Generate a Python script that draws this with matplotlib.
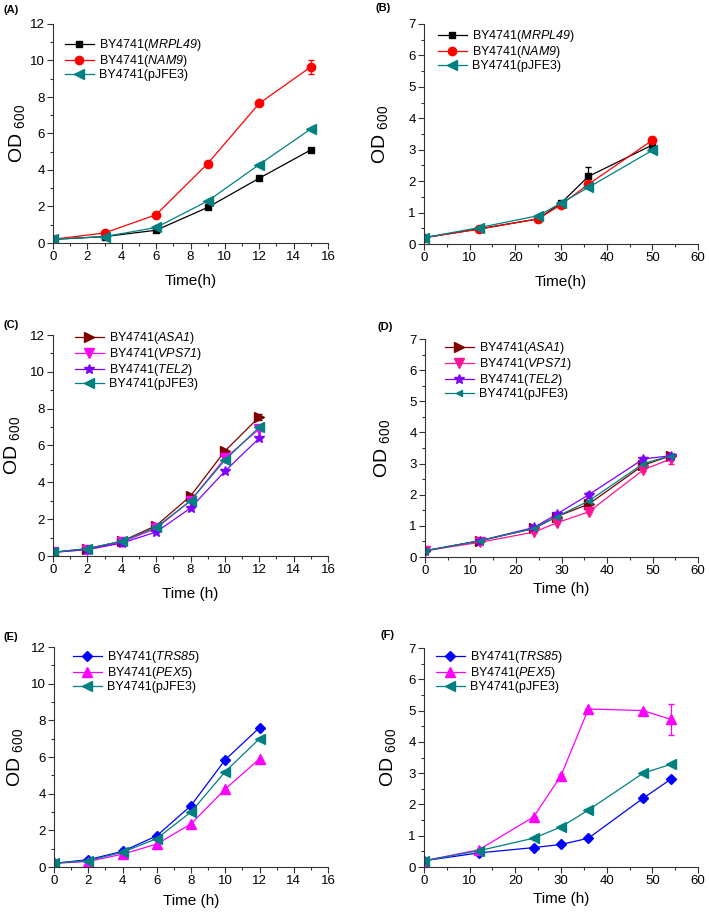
import matplotlib
matplotlib.use("Agg")
from matplotlib import pyplot as plt
from matplotlib.ticker import AutoMinorLocator

plt.rcParams['font.family'] = ['Liberation Sans', 'DejaVu Sans']
plt.rcParams['mathtext.fontset'] = 'custom'
plt.rcParams['mathtext.rm'] = 'Liberation Sans'
# sf 借用为斜体（it 模式下数字不会变斜）
plt.rcParams['mathtext.sf'] = 'Liberation Sans:italic'
plt.rcParams['mathtext.default'] = 'regular'

# (A) / (B) 数据
t_a = [0, 3, 6, 9, 12, 15]
a_mrpl49 = [0.2, 0.35, 0.7, 1.95, 3.55, 5.1]
a_nam9 = [0.2, 0.55, 1.55, 4.35, 7.65, 9.65]
a_nam9_err = [0, 0, 0, 0, 0, 0.4]
a_pjfe3 = [0.2, 0.35, 0.85, 2.3, 4.3, 6.25]

t_b = [0, 12, 25, 30, 36, 50]
b_mrpl49 = [0.2, 0.48, 0.8, 1.3, 2.15, 3.15]
b_mrpl49_err = [0, 0, 0, 0, 0.3, 0.05]
b_nam9 = [0.2, 0.47, 0.8, 1.25, 1.9, 3.3]
b_nam9_err = [0, 0, 0, 0, 0.05, 0.1]
b_pjfe3 = [0.2, 0.52, 0.9, 1.3, 1.8, 2.98]

# (C) / (D)
t_c = [0, 2, 4, 6, 8, 10, 12]
c_asa1 = [0.2, 0.4, 0.8, 1.65, 3.25, 5.7, 7.55]
c_asa1_err = [0, 0, 0, 0, 0.05, 0.05, 0.15]
c_vps71 = [0.2, 0.35, 0.75, 1.5, 3.0, 5.3, 6.9]
c_tel2 = [0.2, 0.35, 0.7, 1.3, 2.6, 4.6, 6.4]
c_pjfe3 = [0.2, 0.4, 0.8, 1.55, 3.0, 5.2, 7.0]

t_d = [0, 12, 24, 29, 36, 48, 54]
d_asa1 = [0.2, 0.52, 0.92, 1.3, 1.7, 2.95, 3.25]
d_vps71 = [0.2, 0.47, 0.8, 1.1, 1.45, 2.8, 3.15]
d_vps71_err = [0, 0, 0, 0, 0.05, 0.05, 0.15]
d_tel2 = [0.2, 0.52, 0.95, 1.38, 2.0, 3.15, 3.25]
d_tel2_err = [0, 0, 0, 0.05, 0.1, 0.05, 0.05]
d_pjfe3 = [0.2, 0.52, 0.92, 1.3, 1.8, 3.0, 3.25]

# (E) / (F)
t_e = [0, 2, 4, 6, 8, 10, 12]
e_trs85 = [0.2, 0.4, 0.85, 1.7, 3.35, 5.85, 7.6]
e_pex5 = [0.2, 0.3, 0.7, 1.25, 2.35, 4.25, 5.9]
e_pjfe3 = [0.2, 0.35, 0.8, 1.55, 3.0, 5.2, 7.0]

t_f = [0, 12, 24, 30, 36, 48, 54]
f_trs85 = [0.2, 0.45, 0.62, 0.72, 0.92, 2.2, 2.8]
f_trs85_err = [0, 0, 0, 0, 0.05, 0.1, 0.05]
f_pex5 = [0.2, 0.55, 1.6, 2.92, 5.05, 5.0, 4.72]
f_pex5_err = [0, 0, 0, 0.05, 0, 0, 0.5]
f_pjfe3 = [0.2, 0.52, 0.92, 1.28, 1.82, 3.0, 3.28]

black = '#000000'
red = '#FF0000'
teal = '#008080'
darkred = '#800000'
magenta = '#FF00FF'
pink = '#FF1493'
purple = '#8000FF'
blue = '#0000FF'

W, H = 709, 913
fig = plt.figure(figsize=(W / 100, H / 100), dpi=100)


def make_ax(l, t, r, b):
    return fig.add_axes([l / W, 1 - b / H, (r - l) / W, (b - t) / H])


def draw(ax, t, y, err, color, marker, label, ms=5.5):
    ax.plot(t, y, color=color, marker=marker, ms=ms, lw=0.9, label=label,
            mec=color, mfc=color)
    if err is not None:
        ax.errorbar(t, y, yerr=err, fmt='none', ecolor=color, elinewidth=0.9, capsize=2.5)


def style(ax, xmax, xstep, ymax, xlabel, letter, lx, ly, leg, ylab_x, xpad):
    ax.set_xlim(0, xmax)
    ax.set_ylim(0, ymax)
    ax.set_xticks(range(0, xmax + 1, xstep))
    ax.set_yticks(range(0, ymax + 1, 2 if ymax > 8 else 1))
    ax.xaxis.set_minor_locator(AutoMinorLocator(2))
    ax.yaxis.set_minor_locator(AutoMinorLocator(2))
    for s in ['top', 'right']:
        ax.spines[s].set_visible(False)
    for s in ['left', 'bottom']:
        ax.spines[s].set_color('#333333')
        ax.spines[s].set_linewidth(0.8)
    ax.tick_params(which='major', length=4, width=0.8, color='#333333', labelsize=9.5, pad=2)
    ax.tick_params(which='minor', length=2.5, width=0.8, color='#333333')
    ax.set_xlabel(xlabel, fontsize=11, labelpad=xpad)
    ax.set_ylabel('OD $_{600}$', fontsize=14)
    ax.yaxis.set_label_coords(ylab_x, 0.5)
    # 图例位置（像素偏移）
    bb = ax.get_position()
    wpx, hpx = bb.width * W, bb.height * H
    ax.legend(loc='upper left', frameon=False, fontsize=9, handlelength=2.3,
              handletextpad=0.4, labelspacing=0.0, borderaxespad=0, borderpad=0,
              bbox_to_anchor=(leg[0] / wpx, 1 - leg[1] / hpx))
    fig.text(lx / W, 1 - ly / H, letter, fontsize=8, fontweight='bold', ha='left', va='center')


# (A)
ax = make_ax(53, 24, 328, 243)
draw(ax, t_a, a_mrpl49, None, black, 's', 'BY4741($\\mathsf{MRPL49}$)', 5)
draw(ax, t_a, a_nam9, a_nam9_err, red, 'o', 'BY4741($\\mathsf{NAM9}$)', 6)
draw(ax, t_a, a_pjfe3, None, teal, '<', 'BY4741(pJFE3)', 6.5)
style(ax, 16, 2, 12, 'Time(h)', '(A)', 3, 10, (12, 13), -0.095, 8)

# (B)
ax = make_ax(424, 24, 698, 244)
draw(ax, t_b, b_mrpl49, b_mrpl49_err, black, 's', 'BY4741($\\mathsf{MRPL49}$)', 5)
draw(ax, t_b, b_nam9, b_nam9_err, red, 'o', 'BY4741($\\mathsf{NAM9}$)', 6)
draw(ax, t_b, b_pjfe3, None, teal, '<', 'BY4741(pJFE3)', 6.5)
style(ax, 60, 10, 7, 'Time(h)', '(B)', 376, 8, (14, 4), -0.125, 8)

# (C)
ax = make_ax(53, 335, 328, 556)
draw(ax, t_c, c_asa1, c_asa1_err, darkred, '>', 'BY4741($\\mathsf{ASA1}$)', 6.5)
draw(ax, t_c, c_vps71, None, magenta, 'v', 'BY4741($\\mathsf{VPS71}$)', 6.5)
draw(ax, t_c, c_tel2, None, purple, '*', 'BY4741($\\mathsf{TEL2}$)', 7.5)
draw(ax, t_c, c_pjfe3, None, teal, '<', 'BY4741(pJFE3)', 6.5)
style(ax, 16, 2, 12, 'Time (h)', '(C)', 3, 325, (22, -5), -0.112, 8)

# (D)
ax = make_ax(425, 339, 698, 557)
draw(ax, t_d, d_asa1, None, darkred, '>', 'BY4741($\\mathsf{ASA1}$)', 6.5)
draw(ax, t_d, d_vps71, d_vps71_err, pink, 'v', 'BY4741($\\mathsf{VPS71}$)', 6.5)
draw(ax, t_d, d_tel2, d_tel2_err, purple, '*', 'BY4741($\\mathsf{TEL2}$)', 7.5)
draw(ax, t_d, d_pjfe3, None, teal, '<', 'BY4741(pJFE3)', 4.5)
style(ax, 60, 10, 7, 'Time (h)', '(D)', 378, 327, (20, 1), -0.12, 3)

# (E)
ax = make_ax(54, 647, 328, 867)
draw(ax, t_e, e_trs85, None, blue, 'D', 'BY4741($\\mathsf{TRS85}$)', 5)
draw(ax, t_e, e_pex5, None, magenta, '^', 'BY4741($\\mathsf{PEX5}$)', 6.5)
draw(ax, t_e, e_pjfe3, None, teal, '<', 'BY4741(pJFE3)', 6.5)
style(ax, 16, 2, 12, 'Time (h)', '(E)', 3, 637, (19, 2), -0.105, 5)

# (F)
ax = make_ax(424, 648, 698, 867)
draw(ax, t_f, f_trs85, f_trs85_err, blue, 'D', 'BY4741($\\mathsf{TRS85}$)', 5)
draw(ax, t_f, f_pex5, f_pex5_err, magenta, '^', 'BY4741($\\mathsf{PEX5}$)', 6.5)
draw(ax, t_f, f_pjfe3, None, teal, '<', 'BY4741(pJFE3)', 6.5)
style(ax, 60, 10, 7, 'Time (h)', '(F)', 380, 635, (12, 1), -0.095, 3)

fig.savefig('out.png', dpi=100)
